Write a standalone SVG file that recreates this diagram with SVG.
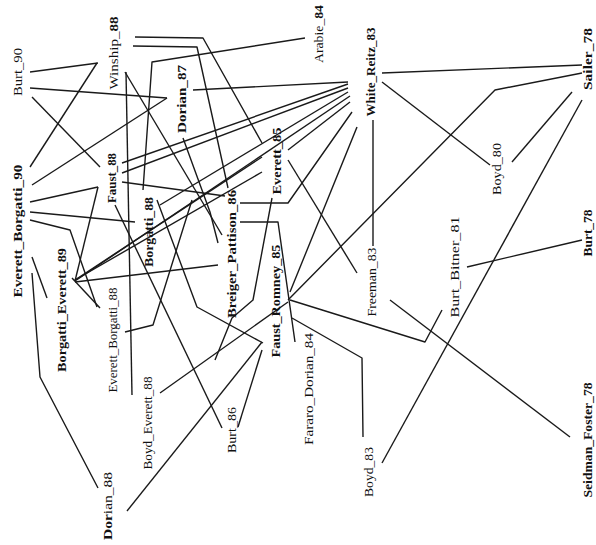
<svg xmlns="http://www.w3.org/2000/svg" width="596" height="545" viewBox="0 0 596 545">
<style>
.e{fill:none;stroke:#1a1a1a;stroke-width:1.4;stroke-linejoin:round}
text{font-family:"Liberation Serif","Times New Roman",serif;font-size:12px;fill:#111}
.b{font-weight:bold}
</style>
<rect width="596" height="545" fill="#fff"/>
<g id="connectors">
<polyline class="e" points="30,72 98,63"/>
<polyline class="e" points="30,88 167,98"/>
<polyline class="e" points="32,97 100,167"/>
<polyline class="e" points="30,167 97,63"/>
<polyline class="e" points="32,185 167,98"/>
<polyline class="e" points="30,202 98,187"/>
<polyline class="e" points="75,281 98,187"/>
<polyline class="e" points="30,212 135,222"/>
<polyline class="e" points="30,220 70,230 97,307"/>
<polyline class="e" points="32,257 47,298"/>
<polyline class="e" points="32,273 40,377 98,488"/>
<polyline class="e" points="135,37 203,38 262,143"/>
<polyline class="e" points="133,46 197,47 228,188"/>
<polyline class="e" points="126,72 132,395"/>
<polyline class="e" points="125,72 222,235"/>
<polyline class="e" points="305,38 152,62 143,190"/>
<polyline class="e" points="348,82 193,90"/>
<polyline class="e" points="348,84 122,163"/>
<polyline class="e" points="348,88 122,173"/>
<polyline class="e" points="348,92 160,205"/>
<polyline class="e" points="350,96 75,281"/>
<polyline class="e" points="350,102 288,150"/>
<polyline class="e" points="352,112 288,203 240,203"/>
<polyline class="e" points="357,127 290,292"/>
<polyline class="e" points="373,120 373,246"/>
<polyline class="e" points="382,73 582,65"/>
<polyline class="e" points="382,82 490,165"/>
<polyline class="e" points="582,73 495,90 288,300"/>
<polyline class="e" points="572,92 512,162"/>
<polyline class="e" points="582,100 382,463"/>
<polyline class="e" points="582,240 467,267"/>
<polyline class="e" points="290,300 425,342 442,310"/>
<polyline class="e" points="390,300 570,437"/>
<polyline class="e" points="292,318 362,358 363,437"/>
<polyline class="e" points="240,222 278,222 295,342"/>
<polyline class="e" points="288,160 357,273"/>
<polyline class="e" points="160,393 288,302"/>
<polyline class="e" points="127,511 262,342"/>
<polyline class="e" points="238,427 262,350"/>
<polyline class="e" points="115,205 222,428"/>
<polyline class="e" points="157,200 197,307 263,343"/>
<polyline class="e" points="75,282 218,265"/>
<polyline class="e" points="72,278 100,308"/>
<polyline class="e" points="75,280 262,157"/>
<polyline class="e" points="75,280 262,172"/>
<polyline class="e" points="125,332 153,325 192,200"/>
<polyline class="e" points="183,138 210,212 218,243"/>
<polyline class="e" points="272,198 253,300 232,318 215,360"/>
<polyline class="e" points="122,182 225,196"/>
</g>
<g id="Burt_90"><text transform="translate(22,72) rotate(-90)" text-anchor="middle" textLength="48" lengthAdjust="spacingAndGlyphs">Burt_90</text></g>
<g id="Winship_88"><text transform="translate(118,53) rotate(-90)" text-anchor="middle" textLength="73" lengthAdjust="spacingAndGlyphs">Winship_<tspan class="b">88</tspan></text></g>
<g id="Dorian_87"><text class="b" transform="translate(186,99) rotate(-90)" text-anchor="middle" textLength="68" lengthAdjust="spacingAndGlyphs">Dorian_87</text></g>
<g id="Arabie_84"><text transform="translate(323,34) rotate(-90)" text-anchor="middle" textLength="58" lengthAdjust="spacingAndGlyphs">Arabie_<tspan class="b">84</tspan></text></g>
<g id="White_Reitz_83"><text class="b" transform="translate(375,72) rotate(-90)" text-anchor="middle" textLength="89" lengthAdjust="spacingAndGlyphs">White_Reitz_83</text></g>
<g id="Sailer_78"><text class="b" transform="translate(592,59) rotate(-90)" text-anchor="middle" textLength="62" lengthAdjust="spacingAndGlyphs">Sailer_78</text></g>
<g id="Everett_Borgatti_90"><text class="b" transform="translate(22,231) rotate(-90)" text-anchor="middle" textLength="133" lengthAdjust="spacingAndGlyphs">Everett_Borgatti_90</text></g>
<g id="Faust_88"><text class="b" transform="translate(116,178) rotate(-90)" text-anchor="middle" textLength="50" lengthAdjust="spacingAndGlyphs">Faust_88</text></g>
<g id="Borgatti_88"><text class="b" transform="translate(153,232) rotate(-90)" text-anchor="middle" textLength="70" lengthAdjust="spacingAndGlyphs">Borgatti_88</text></g>
<g id="Everett_85"><text class="b" transform="translate(281,161) rotate(-90)" text-anchor="middle" textLength="67" lengthAdjust="spacingAndGlyphs">Everett_85</text></g>
<g id="Boyd_80"><text transform="translate(501,169) rotate(-90)" text-anchor="middle" textLength="52" lengthAdjust="spacingAndGlyphs">Boyd_80</text></g>
<g id="Borgatti_Everett_89"><text class="b" transform="translate(66,310) rotate(-90)" text-anchor="middle" textLength="124" lengthAdjust="spacingAndGlyphs">Borgatti_Everett_89</text></g>
<g id="Everett_Borgatti_88"><text transform="translate(117,340) rotate(-90)" text-anchor="middle" textLength="105" lengthAdjust="spacingAndGlyphs">Everett_Borgatti_88</text></g>
<g id="Breiger_Pattison_86"><text class="b" transform="translate(236,254) rotate(-90)" text-anchor="middle" textLength="128" lengthAdjust="spacingAndGlyphs">Breiger_Pattison_86</text></g>
<g id="Faust_Romney_85"><text class="b" transform="translate(280,301) rotate(-90)" text-anchor="middle" textLength="113" lengthAdjust="spacingAndGlyphs">Faust_Romney_85</text></g>
<g id="Freeman_83"><text transform="translate(376,282) rotate(-90)" text-anchor="middle" textLength="69" lengthAdjust="spacingAndGlyphs">Freeman_83</text></g>
<g id="Burt_Bitner_81"><text transform="translate(459,267) rotate(-90)" text-anchor="middle" textLength="101" lengthAdjust="spacingAndGlyphs">Burt_Bitner_81</text></g>
<g id="Burt_78"><text class="b" transform="translate(592,233) rotate(-90)" text-anchor="middle" textLength="47" lengthAdjust="spacingAndGlyphs">Burt_78</text></g>
<g id="Boyd_Everett_88"><text transform="translate(152,423) rotate(-90)" text-anchor="middle" textLength="93" lengthAdjust="spacingAndGlyphs">Boyd_Everett_88</text></g>
<g id="Fararo_Dorian_84"><text transform="translate(313,389) rotate(-90)" text-anchor="middle" textLength="112" lengthAdjust="spacingAndGlyphs">Fararo_Dorian_84</text></g>
<g id="Burt_86"><text transform="translate(236,430) rotate(-90)" text-anchor="middle" textLength="46" lengthAdjust="spacingAndGlyphs">Burt_86</text></g>
<g id="Boyd_83"><text transform="translate(373,472) rotate(-90)" text-anchor="middle" textLength="50" lengthAdjust="spacingAndGlyphs">Boyd_83</text></g>
<g id="Dorian_88"><text transform="translate(112,506) rotate(-90)" text-anchor="middle" textLength="68" lengthAdjust="spacingAndGlyphs"><tspan class="b">Dor</tspan>ian_88</text></g>
<g id="Seidman_Foster_78"><text class="b" transform="translate(592,440) rotate(-90)" text-anchor="middle" textLength="115" lengthAdjust="spacingAndGlyphs">Seidman_Foster_78</text></g>
</svg>
